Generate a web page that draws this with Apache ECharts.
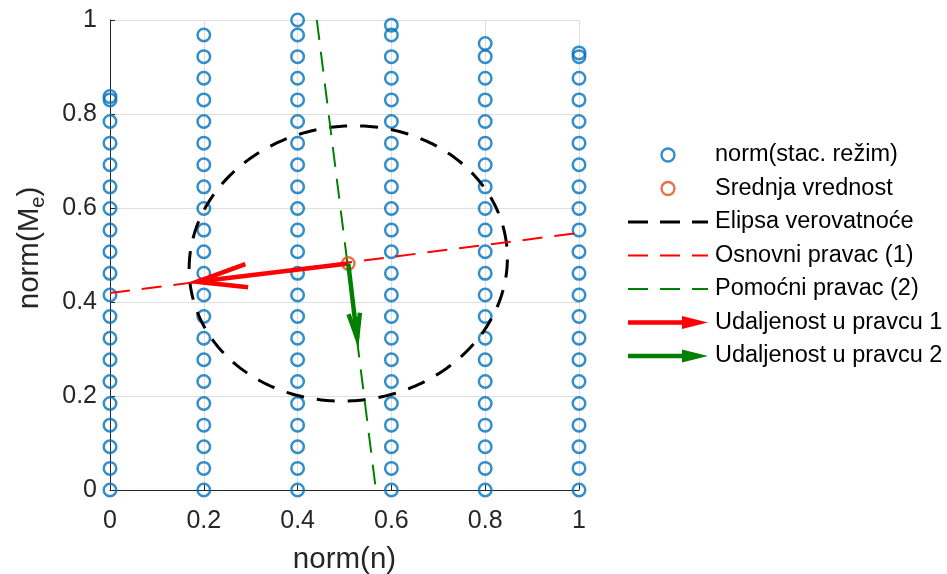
<!DOCTYPE html>
<html><head><meta charset="utf-8">
<script src="https://cdn.jsdelivr.net/npm/echarts@6/dist/echarts.min.js"></script>
<style>html,body{margin:0;padding:0;background:#fff}#c{width:947px;height:574px}</style>
</head><body><div id="c"></div>
<script>
// ---- data ----
const xTickValues = [0, 0.2, 0.4, 0.6, 0.8, 1];
const columnX = [0, 0.2, 0.4, 0.6, 0.8, 1];
const colY_0 = [0, 0.046, 0.092, 0.138, 0.184, 0.231, 0.277, 0.323, 0.369, 0.415, 0.461, 0.507, 0.553, 0.599, 0.645, 0.692, 0.738, 0.784, 0.830, 0.837];
const colY_02 = [0, 0.046, 0.092, 0.138, 0.184, 0.231, 0.277, 0.323, 0.369, 0.415, 0.461, 0.507, 0.553, 0.599, 0.645, 0.692, 0.738, 0.784, 0.830, 0.876, 0.922, 0.968];
const colY_04 = [0, 0.046, 0.092, 0.138, 0.184, 0.231, 0.277, 0.323, 0.369, 0.415, 0.461, 0.507, 0.553, 0.599, 0.645, 0.692, 0.738, 0.784, 0.830, 0.876, 0.922, 0.968, 1.0];
const colY_06 = [0, 0.046, 0.092, 0.138, 0.184, 0.231, 0.277, 0.323, 0.369, 0.415, 0.461, 0.507, 0.553, 0.599, 0.645, 0.692, 0.738, 0.784, 0.830, 0.876, 0.922, 0.968, 0.989];
const colY_08 = [0, 0.046, 0.092, 0.138, 0.184, 0.231, 0.277, 0.323, 0.369, 0.415, 0.461, 0.507, 0.553, 0.599, 0.645, 0.692, 0.738, 0.784, 0.830, 0.876, 0.922, 0.950];
const colY_1 = [0, 0.046, 0.092, 0.138, 0.184, 0.231, 0.277, 0.323, 0.369, 0.415, 0.461, 0.507, 0.553, 0.599, 0.645, 0.692, 0.738, 0.784, 0.830, 0.876, 0.922, 0.930];
const meanPoint = [0.508, 0.482];
const ellipseSemiAxes = [0.340, 0.292];
const direction1Slope = 0.128;
const line1 = [[0, 0.419], [1, 0.547]];
const line2 = [[0.441, 1.0], [0.567, 0.0]];
const arrow1Tip = [0.185, 0.443];
const arrow2Tip = [0.527, 0.323];
const seriesNames = ['norm(stac. režim)', 'Srednja vrednost', 'Elipsa verovatnoće', 'Osnovni pravac (1)', 'Pomoćni pravac (2)', 'Udaljenost u pravcu 1', 'Udaljenost u pravcu 2'];

// ---- build ----
const FONT = '"Liberation Sans", Arial, Helvetica, sans-serif';
const colsY = [colY_0, colY_02, colY_04, colY_06, colY_08, colY_1];
const scatterData = [];
colsY.forEach((ys, i) => ys.forEach(y => scatterData.push([columnX[i], y])));

const theta = Math.atan(direction1Slope);
const ellipseData = [];
for (let i = 0; i <= 360; i++) {
  const t = i / 360 * 2 * Math.PI;
  const ex = ellipseSemiAxes[0] * Math.cos(t), ey = ellipseSemiAxes[1] * Math.sin(t);
  ellipseData.push([meanPoint[0] + ex * Math.cos(theta) - ey * Math.sin(theta),
                    meanPoint[1] + ex * Math.sin(theta) + ey * Math.cos(theta)]);
}
function arrowHead(from, to) {
  const alpha = 0.33, beta = 0.23;
  const u = to[0] - from[0], v = to[1] - from[1];
  return [
    [to[0] - alpha * (u + beta * v), to[1] - alpha * (v - beta * u)],
    [to[0], to[1]],
    [to[0] - alpha * (u - beta * v), to[1] - alpha * (v + beta * u)]
  ];
}
const noEmph = { disabled: true };
function lineSeries(name, data, color, width, dash, z) {
  return { type: 'line', name, data, showSymbol: false, symbol: 'none', silent: true, animation: false,
    lineStyle: { color, width, type: dash || 'solid', cap: 'butt', join: 'miter' }, itemStyle: { color }, emphasis: noEmph, z: z || 2 };
}
const dashBlack = 'path://M0,0h20v3h-20zM32,0h20v3h-20zM64,0h16v3h-16z';
const dashThin = 'path://M0,0h20v2h-20zM32,0h20v2h-20zM64,0h16v2h-16z';
const arrowIcon = 'path://M0,4.25h56v4.5h-56zM54,0L80,6.5L54,13z';

const option = {
  animation: false,
  backgroundColor: '#fff',
  textStyle: { fontFamily: FONT },
  grid: { left: 110, right: 368, top: 20, bottom: 84, containLabel: false, outerBoundsMode: 'none' },
  legend: {
    orient: 'vertical', left: 623, top: 138, padding: 5, itemWidth: 80, itemHeight: 13, itemGap: 9.5,
    selectedMode: false, symbolKeepAspect: true,
    textStyle: { fontSize: 23.5, color: '#000', fontFamily: FONT, padding: [0, 0, 0, 2] },
    data: [
      { name: seriesNames[0], icon: 'circle', itemStyle: { color: 'transparent', borderColor: '#0072BD', borderWidth: 2.4 } },
      { name: seriesNames[1], icon: 'circle', itemStyle: { color: 'transparent', borderColor: '#D95319', borderWidth: 2.4 } },
      { name: seriesNames[2], icon: dashBlack, itemStyle: { color: '#000', borderWidth: 0 } },
      { name: seriesNames[3], icon: dashThin, itemStyle: { color: '#FF0000', borderWidth: 0 } },
      { name: seriesNames[4], icon: dashThin, itemStyle: { color: '#008000', borderWidth: 0 } },
      { name: seriesNames[5], icon: arrowIcon, itemStyle: { color: '#FF0000', borderWidth: 0 } },
      { name: seriesNames[6], icon: arrowIcon, itemStyle: { color: '#008000', borderWidth: 0 } }
    ]
  },
  xAxis: {
    type: 'value', min: 0, max: 1, interval: 0.2,
    axisLine: { show: true, onZero: false, lineStyle: { color: '#262626', width: 1 } },
    axisTick: { show: true, inside: true, length: 5, lineStyle: { color: '#262626' } },
    axisLabel: { fontSize: 25, color: '#262626', margin: 19, fontFamily: FONT,
      formatter: v => { const t = xTickValues.find(x => Math.abs(x - v) < 1e-9); return t === undefined ? '' : String(t); } },
    splitLine: { show: true, lineStyle: { color: '#dfdfdf', width: 1 } },
    name: 'norm(n)', nameLocation: 'middle', nameGap: 55,
    nameTextStyle: { fontSize: 29.5, color: '#262626', fontFamily: FONT }
  },
  yAxis: {
    type: 'value', min: 0, max: 1, interval: 0.2,
    axisLine: { show: true, onZero: false, lineStyle: { color: '#262626', width: 1 } },
    axisTick: { show: true, inside: true, length: 5, lineStyle: { color: '#262626' } },
    axisLabel: { fontSize: 25, color: '#262626', margin: 13, fontFamily: FONT },
    splitLine: { show: true, lineStyle: { color: '#dfdfdf', width: 1 } },
    name: '{a|norm(M}{b|e}{a|)}', nameLocation: 'middle', nameGap: 62, nameRotate: 90,
    nameTextStyle: { color: '#262626', fontFamily: FONT, padding: [0, 0, 0, 14],
      rich: { a: { fontSize: 29.5, color: '#262626', fontFamily: FONT },
              b: { fontSize: 20, color: '#262626', fontFamily: FONT, padding: [16, 0, 0, 0] } } }
  },
  series: [
    { type: 'scatter', name: seriesNames[0], data: scatterData, symbol: 'circle', symbolSize: 12.5, silent: true,
      itemStyle: { color: 'transparent', borderColor: '#0072BD', borderWidth: 2.5 }, emphasis: noEmph, z: 2 },
    { type: 'scatter', name: seriesNames[1], data: [meanPoint], symbol: 'circle', symbolSize: 12.5, silent: true,
      itemStyle: { color: 'transparent', borderColor: '#D95319', borderWidth: 2.5 }, emphasis: noEmph, z: 3 },
    lineSeries(seriesNames[2], ellipseData, '#000', 3, [18, 13], 3),
    lineSeries(seriesNames[3], line1, '#FF0000', 2, [20, 12], 3),
    lineSeries(seriesNames[4], line2, '#008000', 2, [20, 12], 3),
    lineSeries(seriesNames[5], [meanPoint, arrow1Tip], '#FF0000', 4.5, 'solid', 4),
    lineSeries(seriesNames[5], arrowHead(meanPoint, arrow1Tip), '#FF0000', 4.5, 'solid', 4),
    lineSeries(seriesNames[6], [meanPoint, arrow2Tip], '#008000', 4.5, 'solid', 4),
    lineSeries(seriesNames[6], arrowHead(meanPoint, arrow2Tip), '#008000', 4.5, 'solid', 4)
  ]
};
const chart = echarts.init(document.getElementById('c'), null, { renderer: 'canvas' });
chart.setOption(option);
</script></body></html>
